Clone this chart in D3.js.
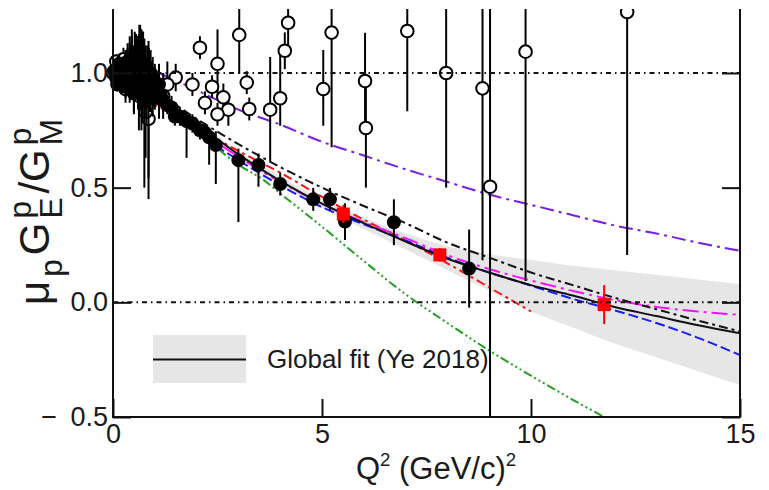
<!DOCTYPE html>
<html><head><meta charset="utf-8">
<script src="https://cdn.jsdelivr.net/npm/d3@7"></script>
<style>body{margin:0;background:#fff}svg{display:block}text{font-family:"Liberation Sans",Arial,Helvetica,sans-serif;fill:#1a1a1a}</style>
</head><body><svg id="c" width="769" height="490"></svg>
<script>
// ---------- data ----------
const xTickLabels = ["0","5","10","15"];
const yTickLabels = ["\u2212\u20020.5","0.0","0.5","1.0"];
const xMajor = [0,5,10,15];
const yMajor = [-0.5,0,0.5,1.0];

// Global fit (Ye 2018) central curve and uncertainty band
const fitQ2    = [0,1,2,3,4,5,6,7,8,9,10,11,12,13,14,15];
const fitVal   = [1.0,0.91,0.78,0.645,0.53,0.43,0.345,0.265,0.19,0.13,0.075,0.03,-0.02,-0.06,-0.10,-0.135];
const fitUpper = [1.0,0.915,0.79,0.66,0.55,0.45,0.37,0.30,0.245,0.21,0.185,0.16,0.14,0.12,0.10,0.08];
const fitLower = [1.0,0.905,0.77,0.63,0.51,0.41,0.32,0.23,0.14,0.05,-0.04,-0.11,-0.18,-0.24,-0.30,-0.36];

// model curves
const blackDDQ2 = [0,1,2,3,4,5,6,7,8,9,10,11,12,13,14,15];
const blackDDVal= [1.0,0.92,0.80,0.69,0.59,0.50,0.42,0.345,0.26,0.195,0.13,0.075,0.02,-0.03,-0.08,-0.127];
const redQ2  = [0.7,1,2,3,4,5,6,7,8,9,10];
const redVal = [0.88,0.86,0.76,0.66,0.565,0.46,0.36,0.27,0.17,0.065,-0.04];
const blueQ2  = [0,1,2,3,4,5,6,7,8,9,10,11,12,13,14,15];
const blueVal = [1.0,0.89,0.74,0.62,0.51,0.415,0.34,0.27,0.195,0.13,0.073,0.015,-0.035,-0.09,-0.155,-0.23];
const magQ2  = [1,2,3,4,5,6,7,8,9,10,11,12,13,14,15];
const magVal = [0.92,0.76,0.635,0.525,0.43,0.35,0.28,0.205,0.145,0.095,0.05,0.01,-0.02,-0.04,-0.055];
const greenQ2  = [1.6,2,2.64,3,3.6,4,5,6,7,8,9,10,11,11.75];
const greenVal = [0.83,0.77,0.65,0.60,0.534,0.475,0.33,0.18,0.035,-0.09,-0.21,-0.32,-0.425,-0.5];
const purpleQ2  = [1.1,2,3,4,5,6,7,8,9,10,11,12,13,14,15];
const purpleVal = [1.0,0.925,0.84,0.775,0.70,0.64,0.58,0.525,0.47,0.425,0.38,0.335,0.30,0.26,0.225];

// open-circle data: Q2, value, error down, error up
const openQ2  = [5.23,5.03,6.03,6.05,7.04,7.97,8.84,9.02,9.87,12.3,3.02,2.5,4.19,4.11,3.2,4.0,3.76,3.26,2.76,2.64,2.2,2.5,2.08,1.9,2.37,1.5,0.9,0.85,0.78,
                 0.0,0.08,0.15,0.25,0.3,0.4,0.5,0.55,0.62,0.7,0.95,1.1,1.3,0.45,0.35,1.2];
const openVal = [1.176,0.93,0.965,0.76,1.183,1.0,0.933,0.504,1.093,1.266,1.166,1.04,1.219,1.097,0.958,0.89,0.84,0.843,0.84,0.894,0.87,0.82,1.11,0.95,0.94,0.98,0.97,0.80,0.83,
                 1.0,1.05,0.96,1.06,0.93,1.05,0.92,1.0,0.9,1.03,0.97,0.92,0.95,0.98,1.01,0.9];
const openErrLo=[0.5,0.16,0.21,0.26,0.35,0.5,0.75,1.0,1.0,1.06,0.17,0.15,0.15,0.08,0.05,0.12,0.225,0.05,0.07,0.06,0.05,0.05,0.05,0.05,0.05,0.06,0.08,0.35,0.2,
                 0.03,0.03,0.03,0.05,0.06,0.08,0.1,0.12,0.15,0.15,0.1,0.12,0.1,0.08,0.06,0.1];
const openErrHi=[0.5,0.17,0.21,0.2,0.35,0.5,0.75,1.0,1.0,1.06,0.17,0.15,0.15,0.08,0.05,0.2,0.23,0.05,0.07,0.06,0.05,0.05,0.05,0.05,0.05,0.06,0.08,0.1,0.15,
                 0.03,0.03,0.03,0.05,0.06,0.08,0.1,0.15,0.2,0.15,0.1,0.12,0.1,0.18,0.1,0.1];

// filled-circle data
const fillQ2  = [2.46,3.0,3.48,4.0,4.79,5.19,5.55,6.72,8.52,1.48,1.76,2.08,2.3,
                 0.05,0.1,0.15,0.2,0.25,0.3,0.35,0.4,0.45,0.5,0.55,0.6,0.65,0.7,0.75,0.8,0.85,0.9,1.0,1.1,1.2,1.3,1.4,1.6,1.9,2.2,
                 0.03,0.07,0.12,0.18,0.22,0.28,0.33,0.38,0.42,0.48,0.52,0.58,0.63,0.68,0.72,0.78,0.82,0.88,0.92,0.97,1.05,1.15,0.5,0.3,0.6,0.25,0.45,0.66,0.86,
                 0.15,0.2,0.35,0.4,0.55,0.7,0.75,0.9,1.0,0.1,0.3,0.5,0.62,0.8,0.95,1.1,0.4,0.2];
const fillVal = [0.686,0.62,0.599,0.516,0.449,0.449,0.352,0.349,0.147,0.81,0.79,0.75,0.72,
                 1.0,0.99,1.01,0.98,1.0,0.97,0.99,0.96,0.98,0.95,0.97,0.94,0.96,0.93,0.95,0.92,0.94,0.91,0.90,0.89,0.88,0.86,0.85,0.81,0.78,0.74,
                 1.01,0.98,1.02,0.97,1.01,0.98,1.02,0.97,1.0,0.97,1.0,0.96,0.99,0.95,0.98,0.94,0.97,0.93,0.95,0.92,0.93,0.9,0.93,0.94,0.91,0.96,1.03,1.02,0.99,
                 1.04,0.95,1.05,0.93,1.04,1.01,0.9,1.0,0.96,0.95,1.04,0.91,1.03,0.89,0.89,0.95,1.06,1.03];
const fillErrLo=[0.17,0.27,0.095,0.05,0.05,0.05,0.08,0.1,0.17,0.04,0.16,0.04,0.12,
                 0.02,0.02,0.03,0.03,0.04,0.04,0.05,0.05,0.06,0.06,0.08,0.1,0.12,0.15,0.45,0.12,0.4,0.08,0.06,0.05,0.05,0.04,0.05,0.04,0.04,0.04,
                 0.02,0.02,0.03,0.03,0.03,0.04,0.04,0.05,0.05,0.06,0.06,0.07,0.08,0.2,0.1,0.1,0.12,0.1,0.08,0.07,0.06,0.05,0.05,0.05,0.06,0.04,0.08,0.1,0.1,
                 0.04,0.04,0.05,0.06,0.08,0.1,0.1,0.1,0.08,0.03,0.05,0.08,0.1,0.12,0.08,0.06,0.08,0.04];
const fillErrHi=[0.06,0.05,0.05,0.05,0.05,0.05,0.08,0.1,0.17,0.04,0.04,0.04,0.04,
                 0.02,0.02,0.03,0.03,0.04,0.04,0.05,0.1,0.12,0.14,0.2,0.22,0.25,0.25,0.2,0.15,0.2,0.08,0.06,0.05,0.05,0.04,0.05,0.04,0.04,0.04,
                 0.02,0.03,0.04,0.05,0.06,0.07,0.08,0.1,0.12,0.15,0.18,0.2,0.22,0.24,0.2,0.18,0.15,0.12,0.1,0.08,0.08,0.06,0.12,0.1,0.15,0.06,0.16,0.17,0.12,
                 0.04,0.05,0.08,0.1,0.12,0.16,0.14,0.1,0.08,0.03,0.06,0.12,0.14,0.1,0.08,0.06,0.1,0.04];

// red squares
const redPtQ2  = [5.51,7.82,11.75];
const redPtVal = [0.385,0.207,-0.01];
const redPtErr = [0.04,0.03,0.085];

const legendLabel = "Global fit (Ye 2018)";

// ---------- drawing ----------
const svg = d3.select("#c");
const X0=113, X1=740, Y0=9, Y1=417;
const x = d3.scaleLinear().domain([0,15]).range([X0,X1]);
const y = d3.scaleLinear().domain([-0.5,1.279]).range([Y1,Y0]);

svg.append("clipPath").attr("id","clip").append("rect")
  .attr("x",X0-8).attr("y",Y0).attr("width",X1-X0+8).attr("height",Y1-Y0);
const plot = svg.append("g").attr("clip-path","url(#clip)");

// band
const bandData = fitQ2.map((q,i)=>({q,lo:fitLower[i],hi:fitUpper[i]}));
plot.append("path").datum(bandData)
  .attr("d", d3.area().x(d=>x(d.q)).y0(d=>y(d.lo)).y1(d=>y(d.hi)).curve(d3.curveMonotoneX))
  .attr("fill","#e6e6e6");

function curve(qs, vs, color, dash, w){
  const pts = qs.map((q,i)=>[q,vs[i]]);
  plot.append("path").datum(pts)
    .attr("d", d3.line().x(d=>x(d[0])).y(d=>y(d[1])).curve(d3.curveMonotoneX))
    .attr("fill","none").attr("stroke",color).attr("stroke-width",w||2)
    .attr("stroke-dasharray",dash);
}
curve(purpleQ2, purpleVal, "#7a1fe0", "14,5,3,5");
curve(greenQ2, greenVal, "#22a022", "9,3,2,3,2,3,2,3");
curve(redQ2, redVal, "#ff1010", "9,4,3,4");
curve(blueQ2, blueVal, "#1a1aff", "10,4");
curve(magQ2, magVal, "#ff10ff", "16,5,3,5");
curve(blackDDQ2, blackDDVal, "#111", "9,4,3,4");
curve(fitQ2, fitVal, "#111", null, 2);

// data
const dg = plot.append("g");
function errBars(qs, vs, lo, hi, color){
  dg.append("g").selectAll("line").data(qs).join("line")
    .attr("x1",(d)=>x(d)).attr("x2",(d)=>x(d))
    .attr("y1",(d,i)=>y(vs[i]-lo[i])).attr("y2",(d,i)=>y(vs[i]+hi[i]))
    .attr("stroke",color).attr("stroke-width",2);
}
errBars(openQ2, openVal, openErrLo, openErrHi, "#000");
dg.append("g").selectAll("circle").data(openQ2).join("circle")
  .attr("cx",d=>x(d)).attr("cy",(d,i)=>y(openVal[i])).attr("r",6.3).attr("fill","#fff")
  .attr("stroke","#000").attr("stroke-width",2);
errBars(fillQ2, fillVal, fillErrLo, fillErrHi, "#000");
dg.append("g").selectAll("circle").data(fillQ2).join("circle")
  .attr("cx",d=>x(d)).attr("cy",(d,i)=>y(fillVal[i])).attr("r",7).attr("fill","#000");
errBars(redPtQ2, redPtVal, redPtErr, redPtErr, "#ff0000");
dg.append("g").selectAll("rect").data(redPtQ2).join("rect")
  .attr("x",d=>x(d)-6.5).attr("y",(d,i)=>y(redPtVal[i])-6.5).attr("width",13).attr("height",13).attr("fill","#ff0000");

// reference lines at 1 and 0
[1.0,0.0].forEach(v=>{
  svg.append("line").attr("x1",x(0)).attr("x2",x(15)).attr("y1",y(v)).attr("y2",y(v))
    .attr("stroke","#111").attr("stroke-width",2).attr("stroke-dasharray","5,4,1.5,4");
});

// axes
const minorX = d3.range(0,15.01,1);
const minorY = d3.range(-0.5,1.251,0.1);
const axB = svg.append("g").attr("transform",`translate(0,${Y1})`);
axB.call(d3.axisBottom(x).tickValues(minorX).tickSize(-9).tickFormat(""));
axB.call(d3.axisBottom(x).tickValues(xMajor).tickSize(-18).tickPadding(7).tickFormat((d,i)=>xTickLabels[i]));
const axL = svg.append("g").attr("transform",`translate(${X0},0)`);
axL.call(d3.axisLeft(y).tickValues(minorY).tickSize(-9).tickFormat(""));
axL.call(d3.axisLeft(y).tickValues(yMajor).tickSize(-18).tickPadding(5).tickFormat((d,i)=>yTickLabels[i]));
const axR = svg.append("g").attr("transform",`translate(${X1},0)`);
axR.call(d3.axisRight(y).tickValues(minorY).tickSize(-9).tickFormat(""));
axR.call(d3.axisRight(y).tickValues(yMajor).tickSize(-18).tickFormat(""));
svg.selectAll(".domain").remove();
svg.selectAll(".tick line").attr("stroke","#111").attr("stroke-width",2);
svg.selectAll(".tick text").attr("font-size",27).attr("font-family","Liberation Sans, Arial, sans-serif").attr("fill","#1a1a1a");
// axis lines
svg.append("path").attr("d",`M${X0},${Y0}V${Y1}H${X1}V${Y0}`).attr("fill","none").attr("stroke","#111").attr("stroke-width",2);

// rich text helper
function rich(g, parts, fs, gap){
  let cx=0, prevStart=0, prevW=0;
  parts.forEach((p,k)=>{
    const s = p.s||1;
    const t = g.append("text").attr("font-size",fs*s).attr("xml:space","preserve").text(p.t);
    const w = t.node().getComputedTextLength();
    let px;
    if(p.stack){ px = prevStart; const adv=Math.max(prevW,w); cx = prevStart+adv; prevW=adv; }
    else { if(k>0) cx += (gap||0); px = cx; prevStart=cx; prevW=w; cx += w; }
    t.attr("x",px).attr("y",(p.dy||0)*fs);
  });
  return cx;
}
// x title
const xt = svg.append("g");
const wx = rich(xt,[{t:"Q"},{t:"2",s:0.6,dy:-0.42},{t:"\u00a0(GeV/c)"},{t:"2",s:0.6,dy:-0.42}],31);
xt.attr("transform",`translate(${436-wx/2},479)`);
// y title
const yt = svg.append("g");
const wy = rich(yt,[{t:"μ"},{t:"p",s:0.75,dy:0.3},{t:"G"},{t:"p",s:0.75,dy:-0.42},{t:"E",s:0.75,dy:0.3,stack:true},{t:"/G"},{t:"p",s:0.75,dy:-0.42},{t:"M",s:0.75,dy:0.3,stack:true}],42,4);
yt.attr("transform",`translate(49,${212+wy/2}) rotate(-90)`);

// legend
svg.append("rect").attr("x",153).attr("y",335).attr("width",93).attr("height",48).attr("fill","#e6e6e6");
svg.append("line").attr("x1",153).attr("x2",246).attr("y1",359.5).attr("y2",359.5).attr("stroke","#111").attr("stroke-width",2);
svg.append("text").attr("x",267).attr("y",368).attr("font-size",26).text(legendLabel);
</script></body></html>
